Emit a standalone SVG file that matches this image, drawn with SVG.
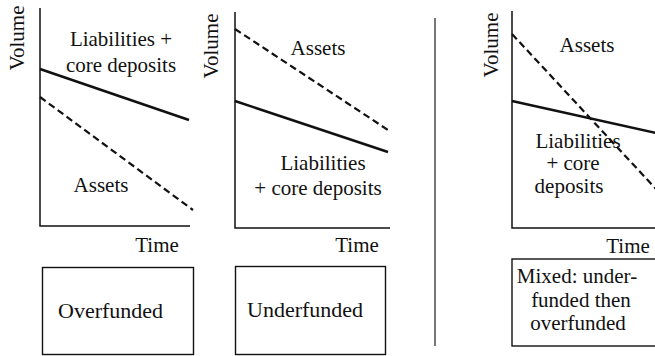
<svg xmlns="http://www.w3.org/2000/svg" width="655" height="356" viewBox="0 0 655 356" font-family="'Liberation Serif', 'Times New Roman', 'DejaVu Serif', serif">
  <style>
    .lbl { font-family: "Liberation Serif", "Times New Roman", "DejaVu Serif", serif; font-size: 21px; fill: #111; }
    .box-lbl { font-size: 22px; }
    .ax { stroke: #111; stroke-width: 1.5; fill: none; }
    .solid { stroke: #111; stroke-width: 2.6; fill: none; }
    .dash { stroke: #111; stroke-width: 2.2; fill: none; stroke-dasharray: 7 4; }
    .box { fill: #fff; stroke: #111; stroke-width: 1.4; }
    .sep { stroke: #777; stroke-width: 2; }
  </style>
  <rect width="655" height="356" fill="#fff"/>

  <!-- Panel 1: overfunded -->
  <g id="chart-overfunded">
    <path class="ax" d="M40,8 V226 H190"/>
    <text class="lbl" transform="translate(24,38) rotate(-90)" text-anchor="middle">Volume</text>
    <line class="solid" x1="40" y1="69" x2="189" y2="120"/>
    <line class="dash" x1="40" y1="97" x2="193" y2="210"/>
    <text class="lbl" x="121" y="46" text-anchor="middle">Liabilities +</text>
    <text class="lbl" x="121" y="72" text-anchor="middle">core deposits</text>
    <text class="lbl" x="101" y="192" text-anchor="middle">Assets</text>
    <text class="lbl" x="157" y="252" text-anchor="middle">Time</text>
  </g>

  <!-- Panel 2: underfunded -->
  <g id="chart-underfunded">
    <path class="ax" d="M235,12 V228 H390"/>
    <text class="lbl" transform="translate(218,46) rotate(-90)" text-anchor="middle">Volume</text>
    <line class="dash" x1="235" y1="29" x2="388" y2="130"/>
    <line class="solid" x1="235" y1="101" x2="388" y2="152"/>
    <text class="lbl" x="318" y="55" text-anchor="middle">Assets</text>
    <text class="lbl" x="323" y="170" text-anchor="middle">Liabilities</text>
    <text class="lbl" x="318" y="195" text-anchor="middle">+ core deposits</text>
    <text class="lbl" x="357" y="252" text-anchor="middle">Time</text>
  </g>

  <!-- Separator -->
  <line class="sep" x1="435" y1="18" x2="435" y2="346"/>

  <!-- Panel 3: mixed -->
  <g id="chart-mixed">
    <path class="ax" d="M512,11 V228 H656"/>
    <text class="lbl" transform="translate(498,45) rotate(-90)" text-anchor="middle">Volume</text>
    <line class="dash" x1="512" y1="34" x2="656" y2="189"/>
    <line class="solid" x1="512" y1="101" x2="656" y2="133"/>
    <text class="lbl" x="587" y="52" text-anchor="middle">Assets</text>
    <text class="lbl" x="578" y="148" text-anchor="middle">Liabilities</text>
    <text class="lbl" x="573" y="170" text-anchor="middle">+ core</text>
    <text class="lbl" x="569" y="193" text-anchor="middle">deposits</text>
    <text class="lbl" x="628" y="253" text-anchor="middle">Time</text>
  </g>

  <!-- Outcome boxes -->
  <g id="box-overfunded">
    <rect class="box" x="42.5" y="267.5" width="151" height="87"/>
    <text class="lbl box-lbl" x="58" y="318">Overfunded</text>
  </g>
  <g id="box-underfunded">
    <rect class="box" x="235.5" y="266.5" width="150" height="88"/>
    <text class="lbl box-lbl" x="247" y="317">Underfunded</text>
  </g>
  <g id="box-mixed">
    <rect class="box" x="512" y="259" width="146" height="87"/>
    <text class="lbl" x="577" y="283" text-anchor="middle">Mixed: under-</text>
    <text class="lbl" x="581" y="307" text-anchor="middle">funded then</text>
    <text class="lbl" x="578" y="330" text-anchor="middle">overfunded</text>
  </g>
</svg>
